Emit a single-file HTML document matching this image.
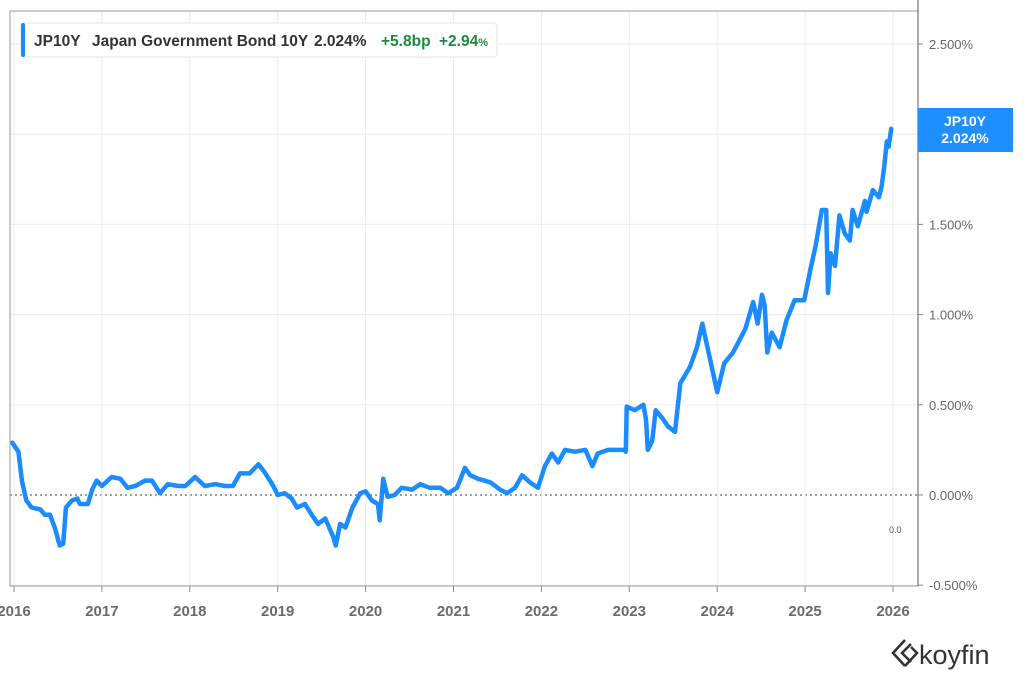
<!DOCTYPE html>
<html><head><meta charset="utf-8"><style>
body{margin:0;background:#fff;}
svg{display:block;font-family:"Liberation Sans",sans-serif;}
</style></head><body>
<svg id="chart" width="1024" height="683" viewBox="0 0 1024 683">
<rect x="0" y="0" width="1024" height="683" fill="#fff"/>
<g id="grid"></g>
<g id="series"></g>
<rect x="10" y="11" width="908" height="575" fill="none" stroke="#9a9a9a" stroke-width="1"/>
<line x1="918" y1="0" x2="918" y2="586" stroke="#555" stroke-width="1"/>
<g id="yaxis"></g>
<g id="xaxis"></g>
<text x="889" y="533" font-size="9" fill="#555">0.0</text>
<g>
<rect x="21" y="23" width="476" height="34" rx="4" fill="#fff" stroke="#e6e6e6"/>
<rect x="21" y="23" width="4" height="34" rx="2" fill="#1a8cff"/>
<text x="34" y="46" font-size="15.5" font-weight="bold" fill="#333">JP10Y</text>
<text x="92" y="46" font-size="15.5" font-weight="bold" fill="#333">Japan Government Bond 10Y</text>
<text x="314" y="46" font-size="15.5" font-weight="bold" fill="#333">2.024%</text>
<text x="381" y="46" font-size="15.5" font-weight="bold" fill="#1e8a3c">+5.8bp</text>
<text x="439" y="46" font-size="15.5" font-weight="bold" fill="#1e8a3c">+2.94<tspan font-size="11">%</tspan></text>
</g>
<g>
<text x="932" y="140" font-size="13" fill="#888">2.0</text>
<rect x="918" y="108" width="95" height="44" fill="#1f8fff"/>
<text x="965" y="126" font-size="14" font-weight="bold" fill="#fff" text-anchor="middle">JP10Y</text>
<text x="965" y="143" font-size="14" font-weight="bold" fill="#fff" text-anchor="middle">2.024%</text>
</g>
<g>
<path d="M905 640 L893 653 L905 666 M911 644 L902 653 L911 662 M905 666 L917 653 L911 647" fill="none" stroke="#333" stroke-width="2.6"/>
<text x="919" y="664" font-size="27" fill="#333">koyfin</text>
</g>
</svg>
<script>
const dates=[2015.98,2016.05,2016.09,2016.14,2016.20,2016.30,2016.35,2016.41,2016.47,2016.52,2016.56,2016.59,2016.66,2016.72,2016.75,2016.84,2016.89,2016.94,2017.00,2017.11,2017.21,2017.29,2017.38,2017.49,2017.57,2017.66,2017.75,2017.87,2017.95,2018.06,2018.17,2018.29,2018.40,2018.49,2018.57,2018.68,2018.78,2018.86,2018.95,2019.00,2019.08,2019.16,2019.22,2019.31,2019.40,2019.46,2019.54,2019.63,2019.66,2019.71,2019.77,2019.85,2019.94,2020.00,2020.07,2020.14,2020.16,2020.20,2020.25,2020.33,2020.41,2020.53,2020.62,2020.73,2020.85,2020.94,2021.04,2021.13,2021.19,2021.28,2021.42,2021.53,2021.61,2021.70,2021.78,2021.87,2021.96,2022.04,2022.12,2022.19,2022.27,2022.38,2022.50,2022.58,2022.64,2022.76,2022.89,2022.95,2022.96,2022.97,2023.06,2023.16,2023.19,2023.21,2023.26,2023.30,2023.37,2023.44,2023.52,2023.58,2023.69,2023.77,2023.83,2023.87,2023.92,2024.00,2024.08,2024.18,2024.32,2024.41,2024.46,2024.51,2024.54,2024.57,2024.62,2024.71,2024.79,2024.88,2024.99,2025.06,2025.12,2025.19,2025.24,2025.26,2025.29,2025.34,2025.39,2025.45,2025.51,2025.54,2025.60,2025.68,2025.70,2025.77,2025.84,2025.87,2025.90,2025.93,2025.95,2025.98];
const yields=[0.29,0.24,0.08,-0.03,-0.07,-0.08,-0.11,-0.11,-0.19,-0.28,-0.27,-0.07,-0.03,-0.02,-0.05,-0.05,0.03,0.08,0.05,0.10,0.09,0.04,0.05,0.08,0.08,0.01,0.06,0.05,0.05,0.10,0.05,0.06,0.05,0.05,0.12,0.12,0.17,0.12,0.05,0.00,0.01,-0.02,-0.07,-0.05,-0.12,-0.16,-0.13,-0.23,-0.28,-0.16,-0.18,-0.07,0.01,0.02,-0.03,-0.05,-0.14,0.09,-0.01,0.00,0.04,0.03,0.06,0.04,0.04,0.01,0.04,0.15,0.11,0.09,0.07,0.03,0.01,0.04,0.11,0.07,0.04,0.16,0.23,0.18,0.25,0.24,0.25,0.16,0.23,0.25,0.25,0.25,0.24,0.49,0.47,0.50,0.42,0.25,0.30,0.47,0.43,0.38,0.35,0.62,0.71,0.82,0.95,0.86,0.75,0.57,0.73,0.79,0.92,1.07,0.95,1.11,1.05,0.79,0.90,0.82,0.97,1.08,1.08,1.25,1.38,1.58,1.58,1.12,1.34,1.27,1.55,1.45,1.41,1.58,1.49,1.63,1.57,1.69,1.65,1.71,1.82,1.96,1.93,2.03];
const yTicks=[2.5,2.0,1.5,1.0,0.5,0.0,-0.5];
const yTickLabels=["2.500%","","1.500%","1.000%","0.500%","0.000%","-0.500%"];
const xTicks=[2016,2017,2018,2019,2020,2021,2022,2023,2024,2025,2026];
const xTickLabels=["2016","2017","2018","2019","2020","2021","2022","2023","2024","2025","2026"];

const NS="http://www.w3.org/2000/svg";
function xs(d){return 14+(d-2016)*87.9;}
function ys(v){return 495-v*180.4;}
function mk(tag,attrs,parent){const e=document.createElementNS(NS,tag);for(const k in attrs)e.setAttribute(k,attrs[k]);parent.appendChild(e);return e;}
const grid=document.getElementById('grid'),yaxis=document.getElementById('yaxis'),xaxis=document.getElementById('xaxis'),series=document.getElementById('series');
yTicks.forEach((t,i)=>{
  const y=ys(t);
  if(t!==0){const g=mk('line',{x1:10,x2:918,y1:y,y2:y,stroke:'#ebebeb','stroke-width':1},grid);
  
  }
  const tk=mk('line',{x1:918,x2:923,y1:y,y2:y,stroke:'#888','stroke-width':1},yaxis);
  
  
  if(yTickLabels[i]){const tx=mk('text',{x:929,y:y+5,'font-size':13,fill:'#666'},yaxis);tx.textContent=yTickLabels[i];
  
  }
});
const z=mk('line',{x1:10,x2:918,y1:ys(0),y2:ys(0),stroke:'#666','stroke-width':1.2,'stroke-dasharray':'2,3'},grid);


xTicks.forEach((t,i)=>{
  const x=xs(t);
  const g=mk('line',{x1:x,x2:x,y1:11,y2:586,stroke:'#ebebeb','stroke-width':1},grid);
  
  
  const tk=mk('line',{x1:x,x2:x,y1:586,y2:592,stroke:'#888','stroke-width':1},xaxis);
  
  
  const tx=mk('text',{x:x,y:616,'font-size':15,'font-weight':'bold',fill:'#6b6b6b','text-anchor':'middle'},xaxis);
  tx.textContent=xTickLabels[i];
  
  
});
const pts=dates.map((d,i)=>xs(d).toFixed(1)+','+ys(yields[i]).toFixed(1)).join(' ');
const line=mk('polyline',{points:pts,fill:'none',stroke:'#1a8cff','stroke-width':4.5,'stroke-linejoin':'round','stroke-linecap':'round'},series);


</script>
</body></html>
